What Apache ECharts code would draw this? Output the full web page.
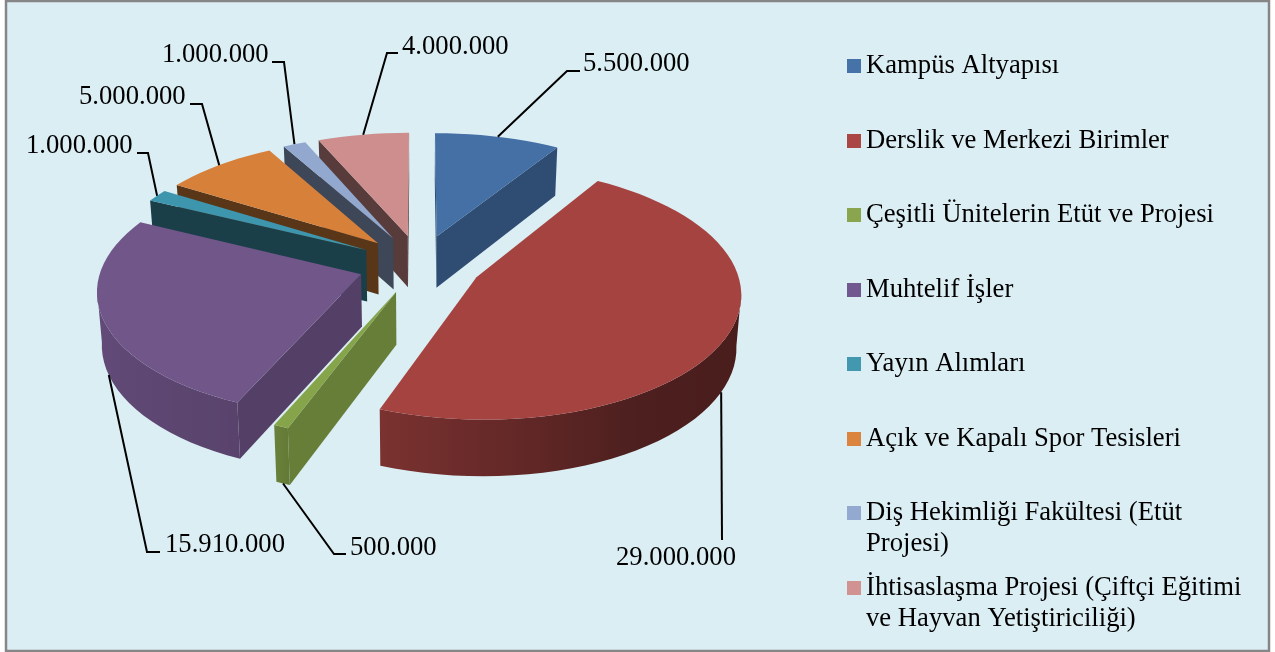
<!DOCTYPE html>
<html>
<head>
<meta charset="utf-8">
<style>
  html, body { margin: 0; padding: 0; background: #fff; }
  #chart { width: 1275px; height: 652px; }
</style>
<script src="https://cdn.jsdelivr.net/npm/echarts@6/dist/echarts.min.js"></script>
</head>
<body>
<div id="chart"></div>
<script>
const categories = [
  'Kampüs Altyapısı',
  'Derslik ve Merkezi Birimler',
  'Çeşitli Ünitelerin Etüt ve Projesi',
  'Muhtelif İşler',
  'Yayın Alımları',
  'Açık ve Kapalı Spor Tesisleri',
  'Diş Hekimliği Fakültesi (Etüt\nProjesi)',
  'İhtisaslaşma Projesi (Çiftçi Eğitimi\nve Hayvan Yetiştiriciliği)'
]
const sliceValues = [5500000, 29000000, 500000, 15910000, 1000000, 5000000, 1000000, 4000000]
const sliceColors = ['#4470A6', '#A54341', '#86A44A', '#71568A', '#3E96AE', '#D7803A', '#92A8CF', '#CE8E8D']
const legendColors = ['#4572A7', '#AA4643', '#89A54E', '#71588F', '#4198AF', '#DB843D', '#93A9CF', '#D19392']

// layout only, in page pixels
const radialShade = [0.69, 0.7, 0.77, 0.74, 0.42, 0.42, 0.42, 0.42]
const labelPos = [[583, 64], [616, 558], [350, 548], [165, 545], [26, 146], [79, 97], [162, 55], [402, 47]]
const leaderBends = [
  [[567, 71], [580, 71]],
  [[722, 540]],
  [[334, 554], [346, 554]],
  [[147, 552], [160, 552]],
  [[148, 153], [137, 153]],
  [[202, 104], [190, 104]],
  [[284, 62], [272, 62]],
  [[387, 53], [398, 53]]
]
const leaderNudge = [0, 1, 0, -1, 0, 0, 0, 0]
const legendRows = [66, 141, 215, 290, 364, 439, 513, 588]

// flattened pie, seen in perspective
const cx = 420
const cy = 264
const kx = 259
const ky = 122
const perspX = 0.115
const perspY = 0.12
const explode = 0.24
const depth = 52

const rimStops = [[0, 0.42], [90, 0.42], [150, 0.47], [200, 0.74], [204, 0.79], [270, 0.9], [360, 0.9]]

const total = sliceValues.reduce((a, b) => a + b, 0)
const startAngles = []
sliceValues.reduce((sum, v, i) => {
  startAngles[i] = sum / total * 360
  return sum + v
}, 0)

function project (u, v) {
  const w = 1 / (1 - perspY * v)
  return { x: cx + kx * u / (1 - perspX * v), y: cy + ky * v * w, w: w }
}

function lower (p) {
  return { x: cx + (p.x - cx) * 0.985, y: p.y + depth * Math.pow(p.w, 0.6), w: p.w }
}

function shade (hex, f) {
  const n = parseInt(hex.slice(1), 16)
  const c = [n >> 16, (n >> 8) & 255, n & 255].map(d => Math.round(d * f))
  return 'rgb(' + c.join(',') + ')'
}

function rimShade (deg) {
  for (let i = 1; i < rimStops.length; i++) {
    if (deg <= rimStops[i][0]) {
      const a = rimStops[i - 1]
      const b = rimStops[i]
      return a[1] + (b[1] - a[1]) * (deg - a[0]) / (b[0] - a[0])
    }
  }
  return 1
}

function formatValue (v) {
  return String(v).replace(/\B(?=(\d{3})+$)/g, '.')
}

function polygon (pts, fill) {
  return {
    type: 'polygon',
    shape: { points: pts.map(p => [p.x, p.y]) },
    style: { fill: fill, stroke: null }
  }
}

function makeRenderItem (i) {
  return function (params, api) {
    const value = api.value(0)
    const a0 = startAngles[i]
    const a1 = a0 + value / total * 360
    const midDeg = (a0 + a1) / 2
    const mid = midDeg * Math.PI / 180
    const ou = explode * Math.sin(mid)
    const ov = -explode * Math.cos(mid)
    const rimPoint = deg => {
      const t = deg * Math.PI / 180
      return project(ou + Math.sin(t), ov - Math.cos(t))
    }

    const apex = project(ou, ov)
    const rim = []
    const steps = Math.max(2, Math.ceil((a1 - a0) / 3))
    for (let s = 0; s <= steps; s++) {
      rim.push({ deg: a0 + (a1 - a0) * s / steps, p: rimPoint(a0 + (a1 - a0) * s / steps) })
    }

    const children = []
    const color = sliceColors[i]

    // straight walls facing the viewer
    const wall = (p, q) => {
      if (q.x < p.x) {
        children.push(polygon([p, q, lower(q), lower(p)], shade(color, radialShade[i])))
      }
    }
    wall(apex, rim[0].p)
    wall(rim[steps].p, apex)

    // curved wall, only the part that runs towards the left
    const run = rim.filter((r, s) => (s < steps && rim[s + 1].p.x < r.p.x) || (s > 0 && r.p.x < rim[s - 1].p.x))
    if (run.length > 1) {
      const x0 = run[0].p.x
      const x1 = run[run.length - 1].p.x
      const stops = run.map(r => ({ offset: (x0 - r.p.x) / (x0 - x1), color: shade(color, rimShade(r.deg)) }))
      const tops = run.map(r => r.p)
      const bottoms = tops.map(lower).reverse()
      children.push(polygon(tops.concat(bottoms), new echarts.graphic.LinearGradient(x0, 0, x1, 0, stops, true)))
    }

    children.push(polygon([apex].concat(rim.map(r => r.p)), color))

    // leader line and value label
    const anchor = rimPoint(midDeg + leaderNudge[i])
    const from = Math.cos(mid) < 0 ? lower(anchor) : anchor
    children.push({
      type: 'polyline',
      shape: { points: [[from.x, from.y]].concat(leaderBends[i]) },
      style: { fill: null, stroke: '#000', lineWidth: 2 }
    })
    children.push({
      type: 'text',
      style: {
        text: formatValue(value),
        x: labelPos[i][0],
        y: labelPos[i][1],
        fill: '#000',
        font: '26.67px "Liberation Serif"',
        align: 'left',
        verticalAlign: 'middle'
      }
    })
    return { type: 'group', children: children }
  }
}

const chart = echarts.init(document.getElementById('chart'))
chart.setOption({
  animation: false,
  color: legendColors,
  graphic: [{
    type: 'rect',
    z: -1,
    silent: true,
    shape: { x: 6, y: 1, width: 1263, height: 650 },
    style: { fill: '#DBEEF4', stroke: '#868686', lineWidth: 2.5 }
  }],
  legend: categories.map((name, i) => {
    const twoLines = name.indexOf('\n') > -1
    return {
      data: [{ name: name, icon: 'rect' }],
      left: 847,
      top: legendRows[i] - (twoLines ? 46.5 : 15.5),
      padding: 0,
      itemWidth: 14,
      itemHeight: 14,
      selectedMode: false,
      // empty first line keeps the icon level with the first text line
      formatter: n => (twoLines ? '\n' + n : n),
      textStyle: {
        color: '#000',
        fontFamily: 'Liberation Serif',
        fontSize: 26.67,
        lineHeight: 31
      }
    }
  }),
  series: categories.map((name, i) => ({
    type: 'custom',
    name: name,
    coordinateSystem: 'none',
    silent: true,
    z: 30 - Math.round(20 * Math.cos((startAngles[i] + sliceValues[i] / total * 180) * Math.PI / 180)),
    itemStyle: { color: legendColors[i] },
    renderItem: makeRenderItem(i),
    data: [[sliceValues[i]]]
  }))
})
</script>
</body>
</html>
